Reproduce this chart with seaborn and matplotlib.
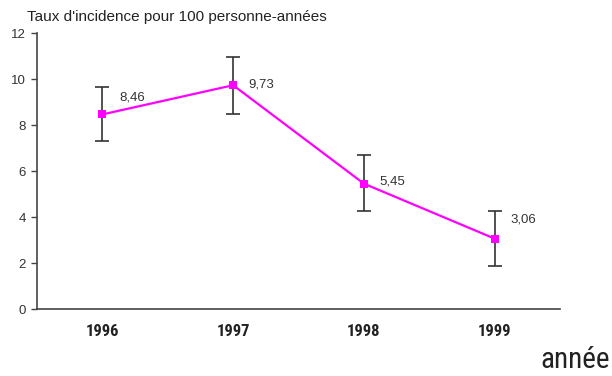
import matplotlib
matplotlib.use("Agg")
import matplotlib.pyplot as plt
from matplotlib import font_manager
from matplotlib.ticker import FixedLocator, NullFormatter
import seaborn as sns
import pandas as pd

years = ["1996", "1997", "1998", "1999"]
taux = [8.46, 9.73, 5.45, 3.06]
ic_bas = [7.30, 8.50, 4.25, 1.87]
ic_haut = [9.65, 10.95, 6.70, 4.25]
etiquettes = ["8,46", "9,73", "5,45", "3,06"]

df = pd.DataFrame({"pos": range(len(years)), "annee": years, "taux": taux})

sns.set_style("white")
plt.rcParams["font.family"] = ["Liberation Sans", "DejaVu Sans"]

# narrow face for the year labels, if one is installed
installed = {f.name for f in font_manager.fontManager.ttflist}
narrow = None
for cand in ["Liberation Sans Narrow", "Roboto Condensed", "Open Sans Condensed",
             "DejaVu Sans Condensed", "Noto Sans Condensed", "Arial Narrow"]:
    if cand in installed:
        narrow = cand
        break
narrow_kw = {"family": [narrow, "DejaVu Sans"]} if narrow else {"family": ["DejaVu Sans"], "stretch": "condensed"}

fig = plt.figure(figsize=(6.12, 3.76), dpi=100)
ax = fig.add_axes([37 / 612, 1 - 309 / 376, (560 - 37) / 612, (309 - 33) / 376])

# confidence intervals
yerr = [[t - b for t, b in zip(taux, ic_bas)], [h - t for t, h in zip(taux, ic_haut)]]
ax.errorbar(df["pos"], df["taux"], yerr=yerr, fmt="none", ecolor="#333333",
            elinewidth=1.2, capsize=5, capthick=1.2, zorder=2)

sns.lineplot(data=df, x="pos", y="taux", color="#ff00ff", linewidth=1.6,
             marker="s", markersize=6, markeredgewidth=0, ax=ax, zorder=3)

offsets = [(0.13, 0.75), (0.12, 0.05), (0.12, 0.1), (0.12, 0.85)]
for x, y, lab, (dx, dy) in zip(df["pos"], taux, etiquettes, offsets):
    ax.text(x + dx, y + dy, lab, fontsize=9.5, color="#333333", ha="left", va="center")

ax.set_xlim(-0.5, 3.5)
ax.set_ylim(0, 12)
ax.set_yticks(range(0, 13, 2))
ax.set_yticklabels([str(v) for v in range(0, 13, 2)], fontsize=9.5, color="#333333")

ax.set_xticks(range(len(years)))
ax.set_xticklabels(years, fontsize=12, color="#222222", fontweight="bold", **narrow_kw)
ax.tick_params(axis="x", which="major", length=0, pad=11)
ax.xaxis.set_minor_locator(FixedLocator([0.5, 1.5, 2.5, 3.5]))
ax.xaxis.set_minor_formatter(NullFormatter())
ax.tick_params(axis="x", which="minor", length=4, width=1, color="#444444", direction="out")
ax.tick_params(axis="y", length=4, width=1, color="#444444", direction="out", left=True, pad=4)

for side in ["top", "right"]:
    ax.spines[side].set_visible(False)
for side in ["left", "bottom"]:
    ax.spines[side].set_color("#444444")
    ax.spines[side].set_linewidth(1.2)

ax.set_xlabel("")
ax.set_ylabel("")

fig.text(27 / 612, 1 - 17 / 376, "Taux d'incidence pour 100 personne-années",
         fontsize=11, color="#222222", ha="left", va="center")
fig.text(610 / 612, 2 / 376, "année", fontsize=21, color="#222222", ha="right", va="bottom",
         **narrow_kw)

fig.savefig("out.png", dpi=100)
